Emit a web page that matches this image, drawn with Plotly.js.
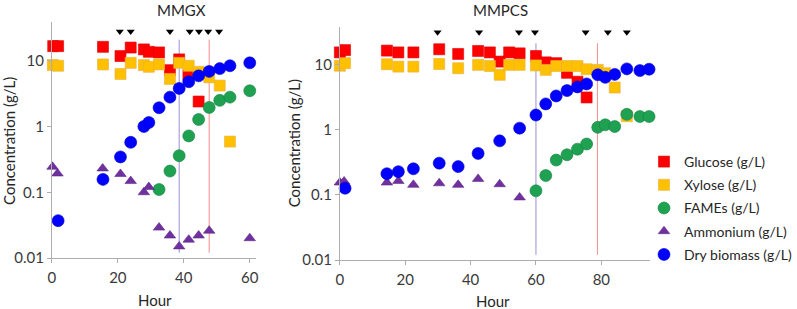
<!DOCTYPE html>
<html>
<head>
<meta charset="utf-8">
<script src="https://cdn.plot.ly/plotly-3.0.1.min.js"></script>
<style>html,body{margin:0;padding:0;background:#fff;} #chart{width:797px;height:309px;}</style>
</head>
<body>
<div id="chart"></div>
<script>
// ---------- MMGX (left panel) ----------
const mmgxGlucoseHour = [0.4, 1.9, 15.5, 20.8, 23.9, 27.9, 29.4, 32.5, 35.8, 38.6, 41.4, 44.5];
const mmgxGlucose     = [16.7, 16.7, 16.3, 11.8, 15.9, 14.9, 13.7, 13.4, 7.2, 10.5, 6.1, 2.4];
const mmgxXyloseHour  = [0.3, 1.9, 15.5, 20.8, 23.9, 27.9, 29.4, 32.5, 35.8, 38.6, 41.5, 44.5, 47.7, 50.9, 54.0];
const mmgxXylose      = [8.6, 8.4, 8.8, 6.3, 9.3, 8.6, 8.1, 8.8, 5.3, 9.3, 8.4, 6.8, 5.6, 4.2, 0.59];
const mmgxFamesHour   = [32.5, 35.8, 38.6, 41.5, 44.5, 47.7, 50.9, 54.0, 60.0];
const mmgxFames       = [0.11, 0.21, 0.36, 0.72, 1.28, 1.95, 2.5, 2.8, 3.5];
const mmgxAmmHour     = [0.2, 1.7, 15.4, 20.8, 23.9, 27.9, 29.4, 32.5, 35.8, 38.6, 41.5, 44.5, 47.7, 60.0];
const mmgxAmm         = [0.244, 0.193, 0.23, 0.19, 0.148, 0.10, 0.12, 0.029, 0.022, 0.015, 0.019, 0.022, 0.026, 0.020];
const mmgxBioHour     = [1.9, 15.5, 20.8, 23.9, 27.9, 29.4, 32.5, 35.8, 38.6, 41.5, 44.5, 47.7, 50.9, 54.0, 60.0];
const mmgxBio         = [0.037, 0.157, 0.345, 0.575, 1.0, 1.15, 1.93, 2.8, 3.8, 4.8, 5.9, 6.9, 7.6, 8.4, 9.3];
const mmgxFeedHour    = [20.6, 23.9, 35.8, 41.8, 44.6, 47.4, 50.7];
const mmgxFeedLevel   = [28, 28, 28, 28, 28, 28, 28];
const mmgxPurpleLine  = [38.6, 38.6];
const mmgxRedLine     = [47.7, 47.7];

// ---------- MMPCS (right panel) ----------
const mmpcsGlucoseHour = [0, 1.6, 14.4, 17.9, 22.5, 30.4, 36.2, 42.3, 45.9, 48.9, 51.8, 55, 60, 63, 66.2, 69.5, 72.7, 75.5];
const mmpcsGlucose     = [15.2, 16.5, 16.2, 15.2, 15.2, 17.0, 14.4, 16.0, 15.2, 11.0, 15.2, 14.7, 13.4, 10.7, 10.4, 7.4, 5.4, 3.1];
const mmpcsXyloseHour  = [0, 1.6, 14.4, 17.9, 22.5, 30.4, 36.2, 42.3, 45.9, 48.9, 51.8, 55, 60, 63, 66.2, 69.5, 72.7, 75.5, 78.9, 81.2, 84.1, 87.8];
const mmpcsXylose      = [9.5, 10.4, 10.0, 9.2, 9.2, 10.1, 8.7, 9.8, 9.4, 6.9, 9.8, 9.8, 9.6, 8.2, 9.4, 9.4, 9.4, 8.4, 8.2, 7.3, 4.4, 1.6];
const mmpcsFamesHour   = [60, 63, 66.2, 69.5, 72.7, 75.5, 78.9, 81.2, 84.1, 87.8, 91.8, 94.6];
const mmpcsFames       = [0.115, 0.197, 0.34, 0.41, 0.50, 0.60, 1.08, 1.18, 1.11, 1.71, 1.58, 1.58];
const mmpcsAmmHour     = [0, 1.3, 14.4, 17.9, 22.5, 30.4, 36.2, 42.3, 48.9, 55];
const mmpcsAmm         = [0.154, 0.16, 0.154, 0.163, 0.142, 0.15, 0.142, 0.175, 0.145, 0.091];
const mmpcsBioHour     = [1.6, 14.4, 17.9, 22.5, 30.4, 36.2, 42.3, 48.9, 55, 60, 63, 66.2, 69.5, 72.7, 75.5, 78.9, 81.2, 84.1, 87.8, 91.8, 94.6];
const mmpcsBio         = [0.126, 0.21, 0.226, 0.25, 0.305, 0.27, 0.43, 0.67, 1.05, 1.67, 2.47, 3.27, 3.95, 4.5, 5.0, 6.9, 6.3, 7.0, 8.5, 8.0, 8.4];
const mmpcsFeedHour    = [29.9, 42.6, 54.8, 59.7, 75.2, 82.0, 87.8];
const mmpcsFeedLevel   = [31, 31, 31, 31, 31, 31, 31];
const mmpcsPurpleLine  = [60, 60];
const mmpcsRedLine     = [78.8, 78.8];

const lineSpan = [0.012, 21];

const seriesNames = ['Glucose (g/L)', 'Xylose (g/L)', 'FAMEs (g/L)', 'Ammonium (g/L)', 'Dry biomass (g/L)'];
const yTickVals = [0.01, 0.1, 1, 10];
const yTickText = ['0.01', '0.1', '1', '10'];

const styles = [
  {symbol: 'square', size: 11, color: '#FF0000', line: {color: '#E00000', width: 0.6}},
  {symbol: 'square', size: 11, color: '#FFC000', line: {color: '#E8B040', width: 0.6}},
  {symbol: 'circle', size: 12, color: '#1FA152', line: {color: '#15803F', width: 0.6}},
  {symbol: 'triangle-up', size: 10, color: '#7030A0', line: {color: '#5E2A88', width: 0.6}},
  {symbol: 'circle', size: 12, color: '#0000FF', line: {color: '#0000C8', width: 0.6}}
];

function pts(x, y, i, xa, ya, show) {
  return {x: x, y: y, type: 'scatter', mode: 'markers', name: seriesNames[i],
    legendgroup: 'g' + i, showlegend: show, xaxis: xa, yaxis: ya, cliponaxis: false,
    marker: styles[i], hoverinfo: 'x+y'};
}
function vline(x, color, xa, ya) {
  return {x: x, y: lineSpan, type: 'scatter', mode: 'lines', showlegend: false,
    xaxis: xa, yaxis: ya, line: {color: color, width: 1}, hoverinfo: 'skip'};
}
function feeds(x, y, xa, ya) {
  return {x: x, y: y, type: 'scatter', mode: 'markers', showlegend: false, xaxis: xa, yaxis: ya,
    cliponaxis: false, marker: {symbol: 'triangle-down', size: 7, color: '#000000'}, hoverinfo: 'x'};
}

const data = [
  vline(mmgxPurpleLine, '#9E8FD6', 'x', 'y'),
  vline(mmgxRedLine, '#F28C8C', 'x', 'y'),
  vline(mmpcsPurpleLine, '#9E8FD6', 'x2', 'y2'),
  vline(mmpcsRedLine, '#F28C8C', 'x2', 'y2'),
  pts(mmgxGlucoseHour, mmgxGlucose, 0, 'x', 'y', true),
  pts(mmgxXyloseHour, mmgxXylose, 1, 'x', 'y', true),
  pts(mmgxFamesHour, mmgxFames, 2, 'x', 'y', true),
  pts(mmgxAmmHour, mmgxAmm, 3, 'x', 'y', true),
  pts(mmgxBioHour, mmgxBio, 4, 'x', 'y', true),
  pts(mmpcsGlucoseHour, mmpcsGlucose, 0, 'x2', 'y2', false),
  pts(mmpcsXyloseHour, mmpcsXylose, 1, 'x2', 'y2', false),
  pts(mmpcsFamesHour, mmpcsFames, 2, 'x2', 'y2', false),
  pts(mmpcsAmmHour, mmpcsAmm, 3, 'x2', 'y2', false),
  pts(mmpcsBioHour, mmpcsBio, 4, 'x2', 'y2', false),
  feeds(mmgxFeedHour, mmgxFeedLevel, 'x', 'y'),
  feeds(mmpcsFeedHour, mmpcsFeedLevel, 'x2', 'y2')
];

const W = 797, H = 309;
const axisCommon = {showgrid: false, zeroline: false, showline: true, linecolor: '#ADADAD', linewidth: 1,
  ticks: 'outside', ticklen: 4, tickcolor: '#ADADAD', tickfont: {family: 'Lato, sans-serif', size: 15, color: '#3A3A3A'}};

function ann(text, x, y, angle) {
  return {text: text, x: x / W, y: (H - y) / H, xref: 'paper', yref: 'paper', xanchor: 'center', yanchor: 'middle',
    showarrow: false, textangle: angle || 0, font: {family: 'Lato, sans-serif', size: 15, color: '#262626'}};
}

const layout = {
  width: W, height: H,
  margin: {l: 0, r: 0, t: 0, b: 0},
  paper_bgcolor: '#ffffff', plot_bgcolor: '#ffffff',
  font: {family: 'Lato, sans-serif', color: '#333333'},
  showlegend: true,
  legend: {x: 646 / W, xanchor: 'left', y: (H - 146) / H, yanchor: 'top',
    font: {family: 'Lato, sans-serif', size: 14, color: '#262626'},
    tracegroupgap: 2, bgcolor: 'rgba(0,0,0,0)'},
  xaxis: Object.assign({}, axisCommon, {domain: [52 / W, 257 / W], range: [0, 62], tickvals: [0, 20, 40, 60], anchor: 'y', ticklabelstandoff: 2}),
  yaxis: Object.assign({}, axisCommon, {domain: [51 / H, 287 / H], type: 'log', range: [-2, 1.59], tickvals: yTickVals, ticktext: yTickText, anchor: 'x'}),
  xaxis2: Object.assign({}, axisCommon, {domain: [340.7 / W, 652 / W], range: [0, 95], tickvals: [0, 20, 40, 60, 80], anchor: 'y2', ticklabelstandoff: 2}),
  yaxis2: Object.assign({}, axisCommon, {domain: [49 / H, 282.3 / H], type: 'log', range: [-2, 1.576], tickvals: yTickVals, ticktext: yTickText, anchor: 'x2'}),
  annotations: [
    ann('MMGX', 182, 10),
    ann('MMPCS', 502, 10),
    ann('Hour', 155, 300),
    ann('Hour', 494, 301),
    ann('Concentration (g/L)', 9, 141, -90),
    ann('Concentration (g/L)', 295, 143, -90)
  ]
};

Plotly.newPlot('chart', data, layout, {displayModeBar: false, staticPlot: true});
</script>
</body>
</html>
